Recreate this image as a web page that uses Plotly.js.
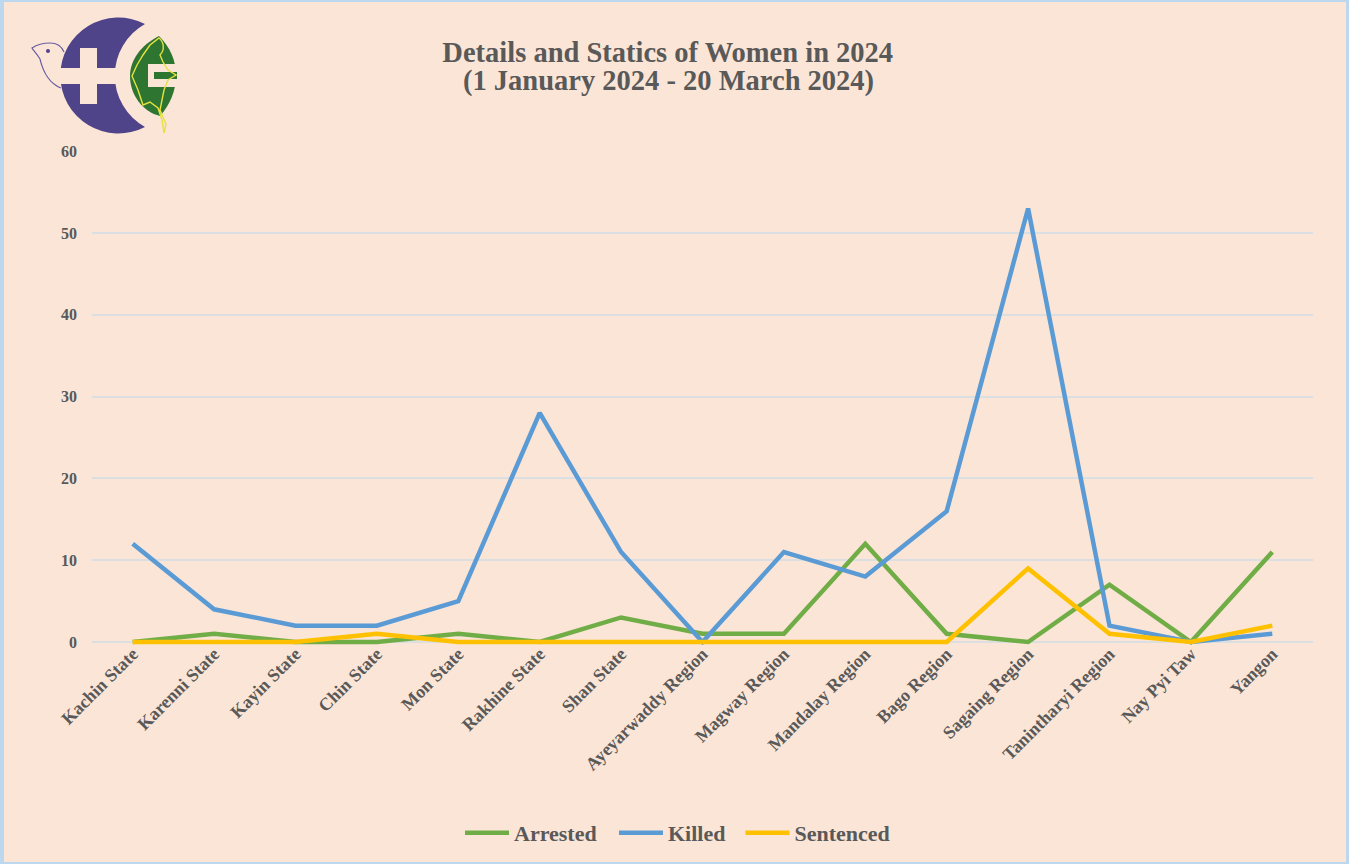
<!DOCTYPE html>
<html><head><meta charset="utf-8">
<script src="https://cdn.plot.ly/plotly-3.0.1.min.js"></script>
<style>html,body{margin:0;padding:0;background:#fbe5d6;overflow:hidden}#c{width:1349px;height:864px}
#frame{position:absolute;left:0;top:0;width:1349px;height:864px;box-sizing:border-box;border-style:solid;border-color:#bdd7ee;border-width:2px 3px 2px 4px;pointer-events:none}
#logo{position:absolute;left:0;top:0;pointer-events:none}</style>
</head><body><div id="c"></div>
<svg id="logo" width="200" height="150" viewBox="0 0 200 150">
<path d="M145 24 A58 58 0 1 0 145 127 A59 59 0 0 1 145 24 Z" fill="#4f4389"/>
<rect x="58" y="68" width="62" height="16" fill="#fbe5d6"/>
<rect x="80" y="48" width="17" height="56" fill="#fbe5d6"/>
<path d="M159 36 C141 45 130 60 130 76 C130 95 143 112 160 116 C170 105 176 90 176 76 C176 60 170 47 159 36 Z" fill="#2e7532"/>
<rect x="148" y="64" width="29" height="23" fill="#fbe5d6"/>
<rect x="154" y="72" width="23" height="7" fill="#2e7532"/>
<path d="M159 38 C164 42 165 50 160 55 L163 62 L168 70 L176 75 L168 80 L164 90 L160 110 L166 124 L164 133 L162 120 L158 108 L150 102 L143 105 L138 90 L132 76 L137 65 L143 55 L150 45 Z" fill="none" stroke="#e4e23f" stroke-width="1.4"/>
<path d="M61 88 C50 84 43 72 40 59 C37 54 33 50 32 48 C38 44 42 43 50 43 C57 43 62 47 64 52" fill="none" stroke="#6a60a3" stroke-width="1.2"/>
<circle cx="48" cy="51" r="2" fill="#4f4389"/>
</svg>
<div id="frame"></div>
<script>
const categories=["Kachin State","Karenni State","Kayin State","Chin State","Mon State","Rakhine State","Shan State","Ayeyarwaddy Region","Magway Region","Mandalay Region","Bago Region","Sagaing Region","Tanintharyi Region","Nay Pyi Taw","Yangon"];
const arrested=[0,1,0,0,1,0,3,1,1,12,1,0,7,0,11];
const killed=[12,4,2,2,5,28,11,0,11,8,16,53,2,0,1];
const sentenced=[0,0,0,1,0,0,0,0,0,0,0,9,1,0,2];
const yTicks=[0,10,20,30,40,50,60];
const titleLine1="Details and Statics of Women in 2024";
const titleLine2="(1 January 2024 - 20 March 2024)";
const font="Liberation Serif";
const ink="#595959";
const bold=(size)=>({family:font,size:size,color:ink,weight:700});
const tr=(n,y,c,lg)=>({type:"scatter",mode:"lines",name:n,x:categories,y:y,line:{color:c,width:4.5},legend:lg});
const lg=(x)=>({orientation:"h",x:x,xanchor:"left",y:-0.3805,yanchor:"middle",font:bold(22),bgcolor:"rgba(0,0,0,0)",itemwidth:44});
Plotly.newPlot("c",[tr("Arrested",arrested,"#70ad47","legend"),tr("Killed",killed,"#5b9bd5","legend2"),tr("Sentenced",sentenced,"#ffc000","legend3")],{
 width:1349,height:864,paper_bgcolor:"#fbe5d6",plot_bgcolor:"#fbe5d6",
 margin:{l:92,r:36,t:151,b:219,autoexpand:false},
 font:{family:font,color:ink},
 title:{text:titleLine1,font:bold(28.5),x:0.495,xanchor:"center",y:0.94,yanchor:"middle",automargin:false},
 annotations:[{text:titleLine2,font:bold(28.5),xref:"paper",yref:"paper",x:0.4725,xanchor:"center",y:1.1417,yanchor:"middle",showarrow:false}],
 xaxis:{type:"category",range:[-0.5,14.5],tickangle:-45,tickfont:bold(18),ticklabelstandoff:-6,showgrid:false,zeroline:false,showline:false,ticks:"",automargin:false},
 yaxis:{range:[-0.367,60.03],tickvals:yTicks,tickfont:bold(16),ticklabelstandoff:14,gridcolor:"#dcdfe2",gridwidth:2,zeroline:false,ticks:"",automargin:false},
 legend:lg(0.3014),legend2:lg(0.4275),legend3:lg(0.5311),
 showlegend:true
},{displayModeBar:false});
</script></body></html>
